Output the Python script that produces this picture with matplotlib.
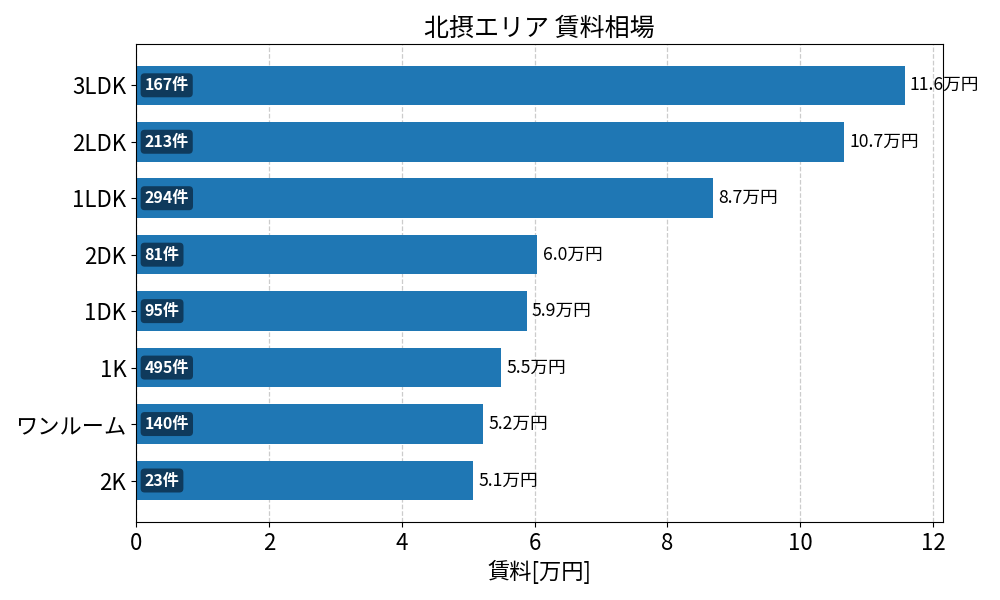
import matplotlib
matplotlib.use("Agg")
import matplotlib.pyplot as plt

plt.rcParams['font.family'] = ['Noto Sans CJK JP', 'DejaVu Sans']

categories = ["2K", "ワンルーム", "1K", "1DK", "2DK", "1LDK", "2LDK", "3LDK"]
rents = [5.08, 5.23, 5.50, 5.88, 6.04, 8.69, 10.66, 11.57]
rent_labels = ["5.1", "5.2", "5.5", "5.9", "6.0", "8.7", "10.7", "11.6"]
counts = [23, 140, 495, 95, 81, 294, 213, 167]

fig, ax = plt.subplots(figsize=(10, 6), dpi=100)
ax.barh(categories, rents, height=0.7, color="#1f77b4", zorder=2)
ax.set_xlim(0, max(rents) * 1.05)
ax.grid(axis="x", linestyle="--", color="#cccccc", linewidth=0.9, zorder=0)
ax.set_axisbelow(True)

for i, (v, lab, c) in enumerate(zip(rents, rent_labels, counts)):
    ax.text(v + 0.08, i, f"{lab}万円", va="center", ha="left", fontsize=12.7)
    ax.text(0.13, i, f"{c}件", va="center", ha="left", fontsize=11.5,
            fontweight="bold", color="white",
            bbox=dict(boxstyle="round,pad=0.25", facecolor="#0f3a5c",
                      edgecolor="none"))

ax.set_title("北摂エリア 賃料相場", fontsize=18)
ax.set_xlabel("賃料[万円]", fontsize=16)
ax.tick_params(axis="both", labelsize=16)
fig.subplots_adjust(left=0.136, right=0.943, top=0.927, bottom=0.13)
fig.savefig("out.png")
